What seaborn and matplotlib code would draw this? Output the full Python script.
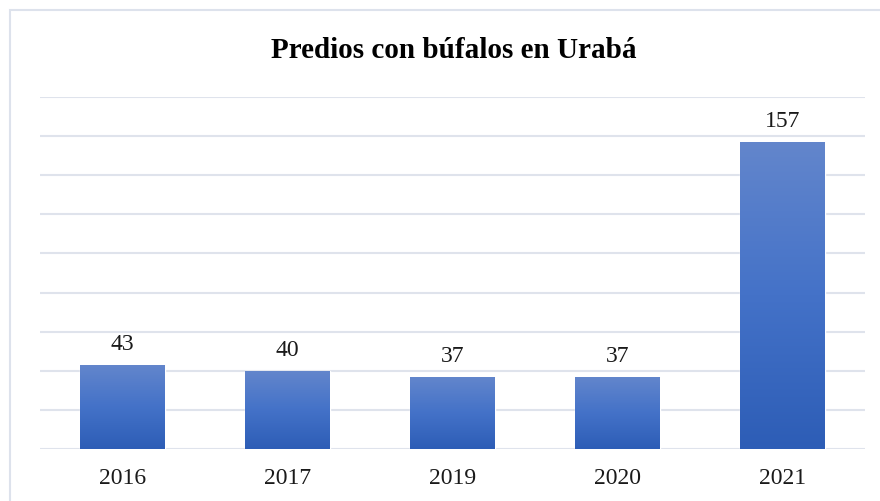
import numpy as np
import pandas as pd
import matplotlib
matplotlib.use("Agg")
import matplotlib.pyplot as plt
import seaborn as sns
from matplotlib.colors import LinearSegmentedColormap
from matplotlib.patches import Rectangle

years = ["2016", "2017", "2019", "2020", "2021"]
predios = [43, 40, 37, 37, 157]
title = "Predios con búfalos en Urabá"

df = pd.DataFrame({"year": years, "predios": predios})

sns.set_style("white")
plt.rcParams['font.family'] = ['Liberation Serif', 'DejaVu Serif']

fig = plt.figure(figsize=(8.8, 5.01), dpi=100)
ax = fig.add_axes([40 / 880, 52 / 501, 825 / 880, 352 / 501])

sns.barplot(data=df, x="year", y="predios", ax=ax, color="#4472c4", width=0.51,
            saturation=1, zorder=3)

# degradado vertical en cada barra (claro arriba, oscuro abajo)
cmap = LinearSegmentedColormap.from_list("grad", ["#2d5db6", "#4472c8", "#6386cc"])
grad = np.linspace(0, 1, 256).reshape(-1, 1)
for bar in ax.patches:
    x0, y0 = bar.get_x(), bar.get_y()
    w, h = bar.get_width(), bar.get_height()
    im = ax.imshow(grad, cmap=cmap, origin="lower", aspect="auto",
                   extent=[x0, x0 + w, y0, y0 + h], zorder=4)
    im.set_clip_path(bar)
    ax.text(x0 + w / 2, y0 + h + 5, f"{h:.0f}", ha="center", va="bottom",
            fontsize=17, color="#1a1a1a")

ax.set_xlim(-0.5, 4.5)
ax.set_ylim(0, 180)
ax.set_yticks(np.arange(0, 181, 20))
ax.yaxis.grid(True, color="#dfe3ec", linewidth=1.5, zorder=0)
ax.tick_params(axis="y", left=False, labelleft=False)
ax.tick_params(axis="x", bottom=False, labelsize=17, pad=10, colors="#1a1a1a")
ax.set_xlabel("")
ax.set_ylabel("")
for s in ax.spines.values():
    s.set_visible(False)

fig.text(454 / 880, 1 - 51 / 501, title, ha="center", va="center",
         fontsize=21, fontweight="bold", color="black")

# marco del gráfico
fig.patches.append(Rectangle((10 / 880, -0.05), 1.0, 1 - 10 / 501 + 0.05,
                             transform=fig.transFigure, fill=False,
                             edgecolor="#dde2ec", linewidth=1.5))

fig.savefig("out.png", dpi=100)
